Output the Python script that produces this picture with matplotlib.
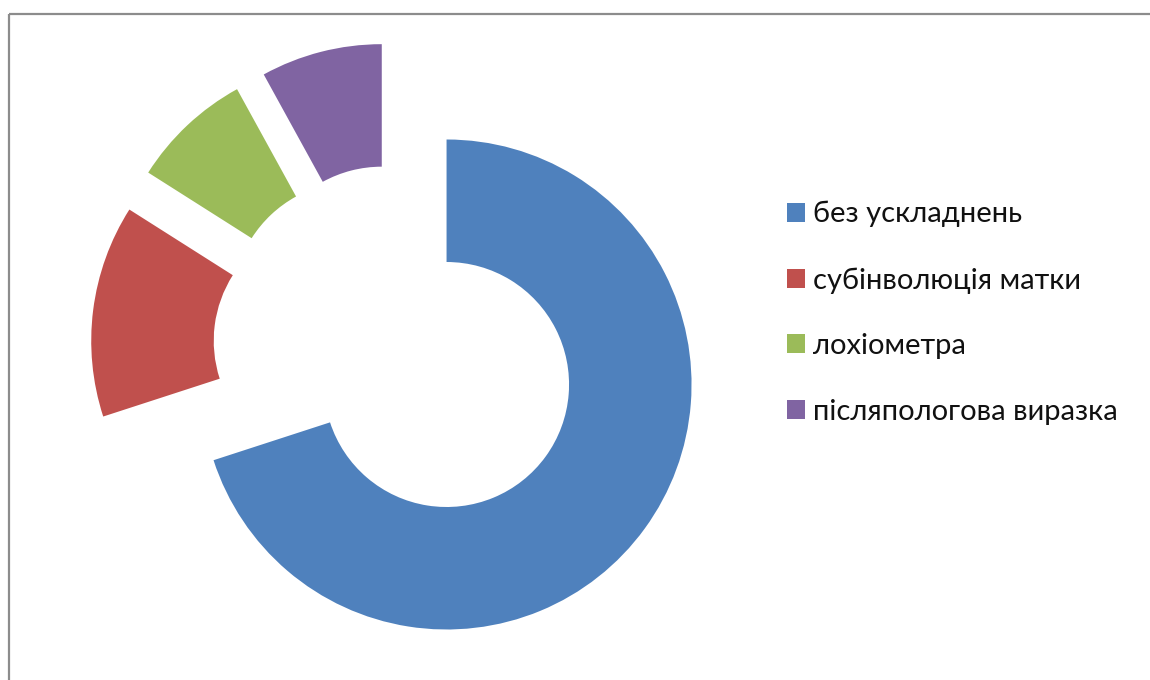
import matplotlib
matplotlib.use("Agg")
import matplotlib.pyplot as plt
from matplotlib.lines import Line2D

categories = ["без ускладнень", "субінволюція матки", "лохіометра", "післяпологова виразка"]
values = [70, 14, 8, 8]
colors = ["#4F81BD", "#C0504D", "#9BBB59", "#8064A2"]

W, H = 1150, 680
fig = plt.figure(figsize=(W / 100, H / 100), dpi=100)
fig.patch.set_facecolor("white")

# pie axes: centre at (397, 348) px, radius 245 px
R = 245
cx, cy = 397, H - 348.5
lim = 1.32
size = 2 * lim * R
ax = fig.add_axes([(cx - size / 2) / W, (cy - size / 2) / H, size / W, size / H])
wedges, _ = ax.pie(
    values,
    colors=colors,
    startangle=90,
    counterclock=False,
    explode=[0.25] * len(values),
    radius=1.0,
    wedgeprops=dict(width=0.5, linewidth=0),
)
ax.set_xlim(-lim, lim)
ax.set_ylim(-lim, lim)
ax.set_aspect("equal")
ax.axis("off")

# chart-area frame (top and left edges visible)
fig.add_artist(Line2D([9 / W, 9 / W], [0, 1 - 13.5 / H], transform=fig.transFigure,
                      color="#8c8c8c", lw=1.6, solid_capstyle="butt"))
fig.add_artist(Line2D([9 / W, 1], [1 - 13.5 / H, 1 - 13.5 / H], transform=fig.transFigure,
                      color="#8c8c8c", lw=1.6, solid_capstyle="butt"))

leg = fig.legend(
    wedges, categories,
    loc="upper left",
    bbox_to_anchor=(787 / W, 1 - 201 / H),
    frameon=False,
    prop=dict(family="Lato", size=21),
    handlelength=0.62, handleheight=0.62, handletextpad=0.28,
    labelspacing=1.36, borderpad=0, borderaxespad=0,
)
for t in leg.get_texts():
    t.set_color("#111111")

fig.savefig("out.png", dpi=100)
